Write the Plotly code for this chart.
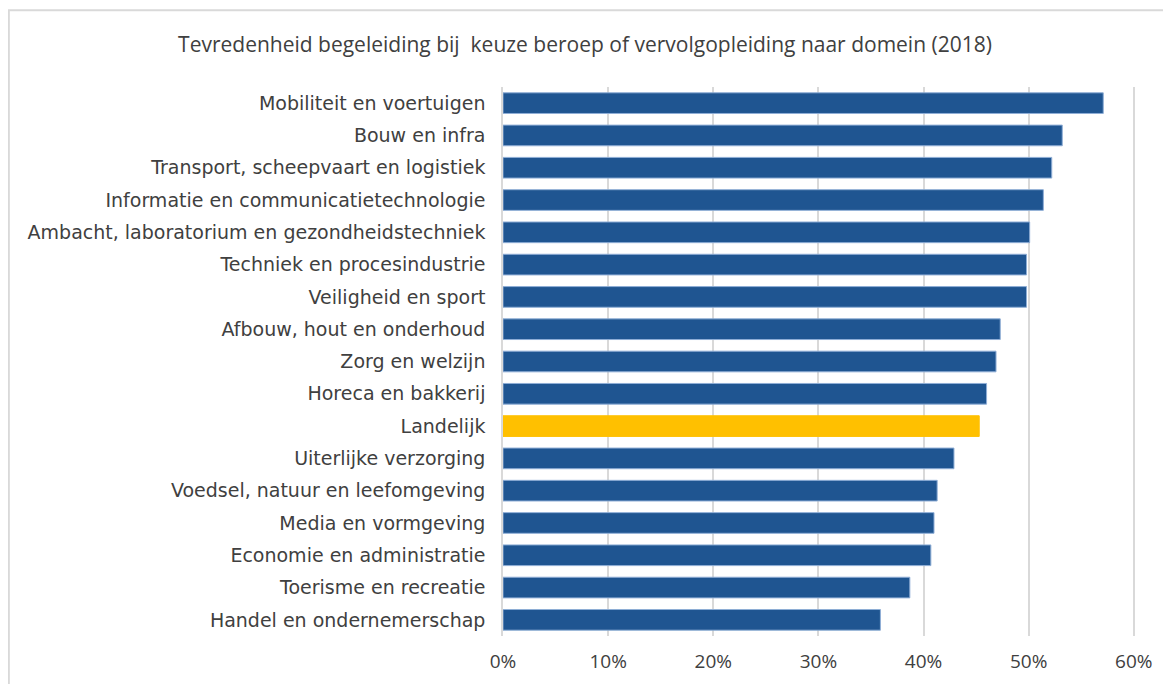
import plotly.graph_objects as go

# data, top to bottom as in the chart
domeinen = [
    'Mobiliteit en voertuigen',
    'Bouw en infra',
    'Transport, scheepvaart en logistiek',
    'Informatie en communicatietechnologie',
    'Ambacht, laboratorium en gezondheidstechniek',
    'Techniek en procesindustrie',
    'Veiligheid en sport',
    'Afbouw, hout en onderhoud',
    'Zorg en welzijn',
    'Horeca en bakkerij',
    'Landelijk',
    'Uiterlijke verzorging',
    'Voedsel, natuur en leefomgeving',
    'Media en vormgeving',
    'Economie en administratie',
    'Toerisme en recreatie',
    'Handel en ondernemerschap',
]
tevredenheid = [0.571, 0.532, 0.522, 0.514, 0.501, 0.498, 0.498, 0.473, 0.469,
                0.460, 0.453, 0.429, 0.413, 0.410, 0.407, 0.387, 0.359]
x_ticks = [0, 0.1, 0.2, 0.3, 0.4, 0.5, 0.6]

blauw = '#1F5591'
geel = '#FFC000'
kleuren = [geel if d == 'Landelijk' else blauw for d in domeinen]
randen = [geel if d == 'Landelijk' else '#8FAED6' for d in domeinen]

fig = go.Figure()
fig.add_trace(go.Bar(
    x=tevredenheid, y=domeinen, orientation='h',
    marker=dict(color=kleuren, line=dict(color=randen, width=1)),
    hoverinfo='x+y',
))

fig.update_layout(
    width=1171, height=684,
    paper_bgcolor='white', plot_bgcolor='white',
    margin=dict(l=495, r=40, t=79, b=56),
    bargap=0.36,
    showlegend=False,
    font=dict(family='DejaVu Sans', color='#404040'),
    title=dict(text='Tevredenheid begeleiding bij  keuze beroep of vervolgopleiding naar domein (2018)',
               x=577 / 1171, xanchor='center', y=1 - 37 / 684, yanchor='middle',
               font=dict(family='Open Sans', size=21, color='#404040')),
)
fig.update_xaxes(
    range=[0, 0.605], tickvals=x_ticks, tickformat='.0%',
    showgrid=True, gridcolor='#D9D9D9', gridwidth=1.5,
    zeroline=False, showline=False, ticks='',
    ticklabelstandoff=12,
    tickfont=dict(family='Open Sans', size=19, color='#404040'),
)
fig.update_yaxes(
    autorange='reversed', showgrid=False, ticks='',
    showline=True, linecolor='#D9D9D9', linewidth=1.5,
    ticklabelstandoff=12,
    tickfont=dict(family='DejaVu Sans', size=19, color='#404040'),
)

# frame of the original screenshot
fig.add_shape(type='rect', xref='paper', yref='paper',
              x0=-0.777, x1=1.2, y0=-0.2, y1=1.14,
              line=dict(color='#D9D9D9', width=2), layer='below')

fig.write_html('out.html')
